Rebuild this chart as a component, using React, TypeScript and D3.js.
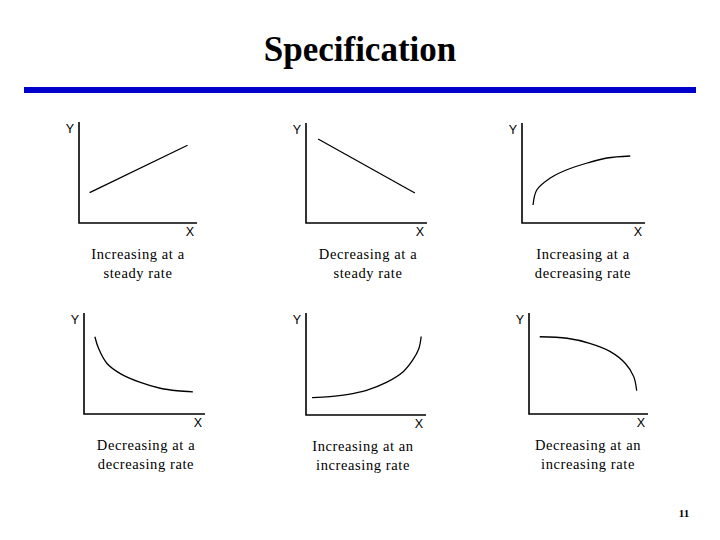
import React from "react";
import * as d3 from "d3";

// curve shapes on a 0..10 scale for both axes
const steadyUp: [number, number][] = [[0.9, 3.0], [9.2, 7.7]];
const steadyDown: [number, number][] = [[1.0, 8.4], [9.0, 3.0]];
const upDecreasing: [number, number][] = [
  [0.9, 1.8], [1.2, 3.3], [2.3, 4.5], [3.6, 5.3], [5.3, 6.0], [6.9, 6.5], [8.8, 6.7],
];
const downDecreasing: [number, number][] = [
  [0.9, 7.65], [1.2, 6.5], [1.9, 5.0], [3.0, 4.0], [4.6, 3.15], [6.3, 2.55], [7.7, 2.3], [9.0, 2.2],
];
const upIncreasing: [number, number][] = [
  [0.5, 1.7], [2.0, 1.8], [3.4, 2.0], [5.1, 2.45], [6.7, 3.2], [8.1, 4.25], [8.9, 5.4], [9.4, 6.5], [9.6, 7.7],
];
const downIncreasing: [number, number][] = [
  [0.9, 7.65], [3.2, 7.5], [5.1, 7.0], [6.8, 6.2], [8.1, 5.0], [8.8, 3.7], [9.05, 2.3],
];

const captions: [string, string][] = [
  ["Increasing at a", "steady rate"],
  ["Decreasing at a", "steady rate"],
  ["Increasing at a", "decreasing rate"],
  ["Decreasing at a", "decreasing rate"],
  ["Increasing at an", "increasing rate"],
  ["Decreasing at an", "increasing rate"],
];

const series = [steadyUp, steadyDown, upDecreasing, downDecreasing, upIncreasing, downIncreasing];

const title = "Specification";
const pageNumber = "11";

// axis boxes: left (y axis), top, right (x axis end), bottom (x axis)
const frames = [
  { l: 79, t: 122, r: 197, b: 223, cx: 138 },
  { l: 306, t: 123, r: 427, b: 223, cx: 368 },
  { l: 522, t: 123, r: 645, b: 223, cx: 583 },
  { l: 84, t: 313, r: 205, b: 414, cx: 146 },
  { l: 306, t: 313, r: 426, b: 415, cx: 363 },
  { l: 529, t: 313, r: 648, b: 414, cx: 588 },
];

const Panel: React.FC<{ idx: number }> = ({ idx }) => {
  const f = frames[idx];
  const x = d3.scaleLinear().domain([0, 10]).range([f.l, f.r]);
  const y = d3.scaleLinear().domain([0, 10]).range([f.b, f.t]);
  const line = d3
    .line<[number, number]>()
    .x((d) => x(d[0]))
    .y((d) => y(d[1]))
    .curve(d3.curveCatmullRom.alpha(0.5));
  const capTop = f.b + 36;
  return (
    <g>
      <path
        d={`M${f.l},${f.t}V${f.b}H${f.r}`}
        fill="none"
        stroke="#000"
        strokeWidth={1.6}
      />
      <path d={line(series[idx]) || ""} fill="none" stroke="#000" strokeWidth={1.3} />
      <text
        x={f.l - 9}
        y={f.t + 11}
        textAnchor="middle"
        fontFamily="Liberation Sans, Arial, sans-serif"
        fontSize={12.5}
      >
        Y
      </text>
      <text
        x={f.r - 7}
        y={f.b + 13}
        textAnchor="middle"
        fontFamily="Liberation Sans, Arial, sans-serif"
        fontSize={12.5}
      >
        X
      </text>
      {captions[idx].map((c, i) => (
        <text
          key={i}
          x={f.cx}
          y={capTop + i * 19}
          textAnchor="middle"
          fontFamily="Liberation Serif, Times New Roman, serif"
          fontSize={14.5}
          letterSpacing={0.6}
        >
          {c}
        </text>
      ))}
    </g>
  );
};

export default function App() {
  return (
    <svg
      width={720}
      height={540}
      style={{ position: "absolute", left: 0, top: 0, background: "#fff" }}
    >
      <rect width={720} height={540} fill="#fff" />
      <text
        x={360}
        y={61}
        textAnchor="middle"
        fontFamily="Liberation Serif, Times New Roman, serif"
        fontWeight="bold"
        fontSize={35}
      >
        {title}
      </text>
      <rect x={24} y={87} width={672} height={6} fill="#0000cc" />
      {frames.map((_, i) => (
        <Panel key={i} idx={i} />
      ))}
      <text
        x={684}
        y={517}
        textAnchor="middle"
        fontFamily="Liberation Serif, Times New Roman, serif"
        fontWeight="bold"
        fontSize={11}
      >
        {pageNumber}
      </text>
    </svg>
  );
}
